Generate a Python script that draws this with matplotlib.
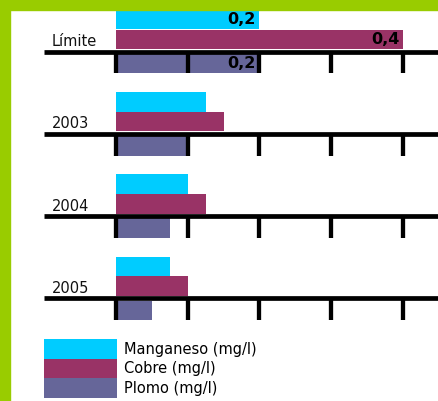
import matplotlib
matplotlib.use("Agg")
import matplotlib.pyplot as plt
from matplotlib.patches import Patch, Rectangle
import numpy as np

# ── Data ───────────────────────────────────────────────────────────────────
categories = ["Límite", "2003", "2004", "2005"]
series     = ["Manganeso (mg/l)", "Cobre (mg/l)", "Plomo (mg/l)"]
manganeso  = [0.2, 0.125, 0.1, 0.075]
cobre      = [0.4, 0.15, 0.125, 0.1]
plomo      = [0.2, 0.1, 0.075, 0.05]
ticks      = [0.0, 0.1, 0.2, 0.3, 0.4]
value_labels = {0: ["0,2", "0,4", "0,2"]}   # only the limit row is labelled

colors = ["#00CCFF", "#993366", "#666699"]
GREEN  = "#99CC00"

# ── Layout (pixel based, figure is 438x401) ────────────────────────────────
W, H  = 438, 401
PX_PER_UNIT = 716.7
X0_PX = 116
GROUP0, GROUP_STEP = 51.7, 82.2
BAR_H = 19.6
offsets = [-32.0, -12.4, 12.0]   # bar centres relative to each axis line

fig = plt.figure(figsize=(W / 100, H / 100), dpi=100)
ax = fig.add_axes([0, 0, 1, 1])
ax.set_xlim(-X0_PX / PX_PER_UNIT, (W - X0_PX) / PX_PER_UNIT)
ax.set_ylim(H, 0)
ax.axis("off")

# green frame
fig.patches.append(Rectangle((0, 1 - 10 / H), 1, 10 / H, transform=fig.transFigure,
                             color=GREEN, zorder=0))
fig.patches.append(Rectangle((0, 0), 9.5 / W, 1, transform=fig.transFigure,
                             color=GREEN, zorder=0))

axis_y = GROUP0 + GROUP_STEP * np.arange(len(categories))

for vals, off, col in zip([manganeso, cobre, plomo], offsets, colors):
    ax.barh(axis_y + off, vals, height=BAR_H, left=0, color=col, zorder=2)

xmin = (44 - X0_PX) / PX_PER_UNIT
for i, y in enumerate(axis_y):
    ax.hlines(y, xmin, 1, color="black", linewidth=3.4, zorder=3)
    ax.vlines(ticks, y, y + 21.6, color="black", linewidth=3.1, zorder=3)
    ax.text((52 - X0_PX) / PX_PER_UNIT, y - 5.6, categories[i],
            fontsize=10.5, ha="left", va="baseline", color="#111111")

for gi, labels in value_labels.items():
    for vals, off, lab in zip([manganeso, cobre, plomo], offsets, labels):
        ax.annotate(lab, (vals[gi], axis_y[gi] + off), xytext=(-2.5, 0),
                    textcoords="offset points", ha="right", va="center",
                    fontsize=11.5, fontweight="bold", color="black", zorder=4)

handles = [Patch(facecolor=c, edgecolor="none") for c in colors]
fig.legend(handles, series, loc="upper left",
           bbox_to_anchor=(44 / W, 1 - 339 / H), frameon=False,
           fontsize=10.5, handlelength=5.0, handleheight=1.70,
           handletextpad=0.5, labelspacing=0, borderpad=0, borderaxespad=0)

fig.savefig("out.png", dpi=100)
